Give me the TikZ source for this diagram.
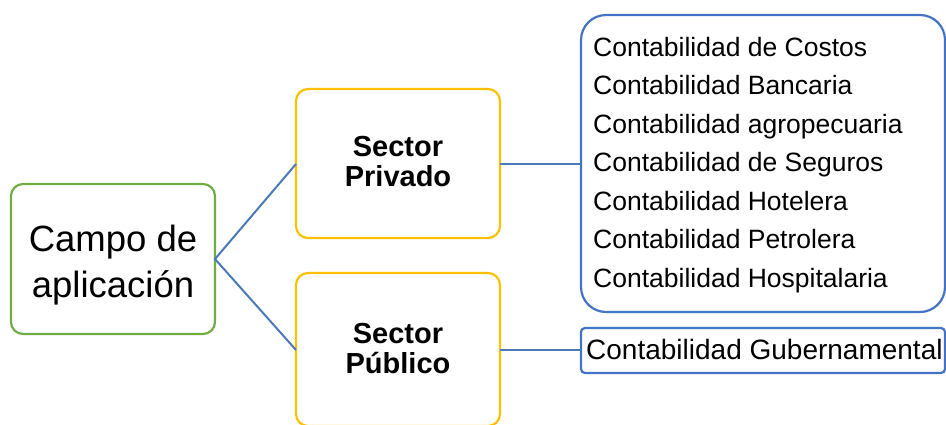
\documentclass[tikz,border=0pt]{standalone}
\usepackage{fontspec}
\setmainfont{Liberation Sans}
\definecolor{cgreen}{HTML}{70AD47}
\definecolor{cyellow}{HTML}{FFC000}
\definecolor{cblue}{HTML}{4472C4}
\definecolor{cline}{HTML}{4A7BB7}
\begin{document}
\begin{tikzpicture}[x=1pt,y=-1pt,
  box/.style={draw, line width=2.2pt, rounded corners=12pt, inner sep=0pt, outer sep=0pt},
  conn/.style={draw=cline, line width=2pt},
  campotext/.style={font=\fontsize{36.5}{46.5}\selectfont, align=center},
  sectortext/.style={font=\fontsize{29}{30}\selectfont\bfseries, align=center},
  listtext/.style={font=\fontsize{26.5}{38.5}\selectfont, align=left, anchor=north west, inner sep=0pt},
]
\useasboundingbox (0,0) rectangle (946,424);
% boxes
\draw[box, draw=cgreen] (11,184) rectangle (215,334);
\node[campotext] (campo) at (113,265) {Campo de\\aplicación};
\coordinate (campoE) at (215,259);

\draw[box, draw=cyellow] (296,89) rectangle (500,238);
\node[sectortext] (priv) at (398,162) {Sector\\Privado};
\coordinate (privW) at (296,164);
\coordinate (privE) at (500,164);

\draw[box, draw=cyellow] (296,273) rectangle (500,426);
\node[sectortext] (pub) at (398,349) {Sector\\Público};
\coordinate (pubW) at (296,350);
\coordinate (pubE) at (500,350);

\draw[box, draw=cblue, rounded corners=25pt] (581,15) rectangle (945,312);
\coordinate (listW) at (581,164);
\node[listtext] (list) at (593,37) {Contabilidad de Costos\\Contabilidad Bancaria\\Contabilidad agropecuaria\\Contabilidad de Seguros\\Contabilidad Hotelera\\Contabilidad Petrolera\\Contabilidad Hospitalaria};

\draw[box, draw=cblue, rounded corners=4pt] (581,328) rectangle (945,373);
\coordinate (gubW) at (581,350);
\node[font=\fontsize{28}{30}\selectfont, anchor=base west, inner sep=0pt] (gub) at (586,359) {Contabilidad Gubernamental};

% connectors
\draw[conn] (privW) -- (campoE) -- (pubW);
\draw[conn] (privE) -- (listW);
\draw[conn] (pubE) -- (gubW);
\end{tikzpicture}
\end{document}
